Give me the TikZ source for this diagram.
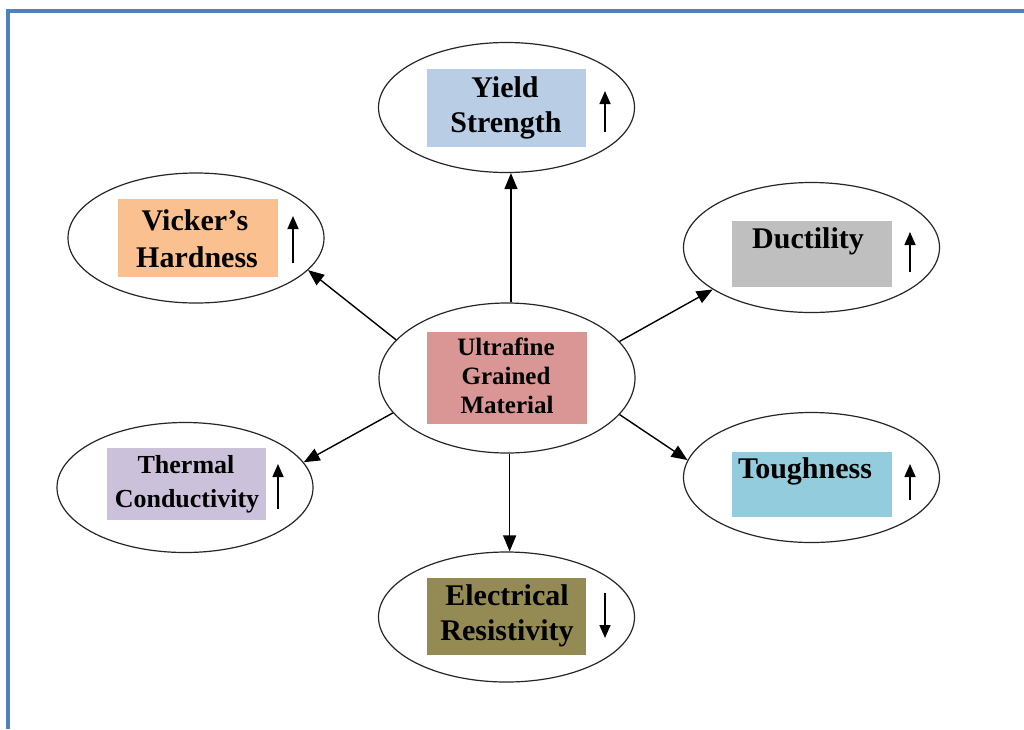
\documentclass[tikz,border=0pt]{standalone}
\usepackage{fontspec}
\setmainfont{Liberation Serif}
\usetikzlibrary{shapes.geometric,arrows.meta}
\definecolor{frameblue}{HTML}{4F81BD}
\definecolor{cyield}{HTML}{B9CDE5}
\definecolor{cvick}{HTML}{FAC08F}
\definecolor{cduct}{HTML}{BFBFBF}
\definecolor{ccent}{HTML}{D99694}
\definecolor{ctherm}{HTML}{CCC1DA}
\definecolor{ctough}{HTML}{93CDDD}
\definecolor{celec}{HTML}{948A54}
\tikzset{
  oval/.style={draw=black!85, line width=1.2pt, ellipse, inner sep=0pt, minimum width=256pt, minimum height=130pt},
  bigoval/.style={oval, minimum height=150pt},
  colbox/.style={rectangle, inner sep=0pt, draw=none},
  lbl/.style={anchor=base, inner sep=0pt, font=\bfseries\fontsize{30}{35}\selectfont, text=black},
  lblsmall/.style={lbl, font=\bfseries\fontsize{26}{32}\selectfont},
  lblcent/.style={lbl, font=\bfseries\fontsize{25}{29}\selectfont},
  conn/.style={line width=1.4pt, -{Triangle[length=16pt,width=13pt]}},
  trend/.style={line width=1.6pt, -{Triangle[length=13pt,width=11pt]}}
}
\begin{document}
\begin{tikzpicture}[x=1pt,y=-1pt]
\useasboundingbox (0,0) rectangle (1024,729);
\fill[white] (0,0) rectangle (1024,729);
% frame
\fill[frameblue] (6,9) rectangle (1024,13);
\fill[frameblue] (6,9) rectangle (10,729);

% ellipses
\node[bigoval] (c) at (507,378) {};
\node[oval] (y) at (506.5,107.5) {};
\node[oval] (v) at (196,238) {};
\node[oval] (d) at (811.5,247.5) {};
\node[oval] (t) at (185,487.5) {};
\node[oval] (g) at (811.5,477.5) {};
\node[oval] (e) at (506.5,617) {};

% coloured boxes
\node[colbox, fill=cyield, minimum width=159pt, minimum height=78pt] (yb) at (506.5,108) {};
\node[colbox, fill=cvick, minimum width=160pt, minimum height=78pt] (vb) at (198,238) {};
\node[colbox, fill=cduct, minimum width=160pt, minimum height=66pt] (db) at (812,254) {};
\node[colbox, fill=ccent, minimum width=160pt, minimum height=92pt] (cb) at (507,378) {};
\node[colbox, fill=ctherm, minimum width=159pt, minimum height=72pt] (tb) at (186.5,484) {};
\node[colbox, fill=ctough, minimum width=160pt, minimum height=65pt] (gb) at (812,484.5) {};
\node[colbox, fill=celec, minimum width=159pt, minimum height=77pt] (eb) at (506.5,616.5) {};

% labels
\node[lbl] (y1) at (505,97) {Yield};
\node[lbl] (y2) at (506,132) {Strength};
\node[lbl] (v1) at (195,230) {Vicker’s};
\node[lbl] (v2) at (197,267) {Hardness};
\node[lbl] (d1) at (808,248) {Ductility};
\node[lbl] (g1) at (805,478) {Toughness};
\node[lblcent] (c1) at (506,355) {Ultrafine};
\node[lblcent] (c2) at (506,384) {Grained};
\node[lblcent] (c3) at (507,413) {Material};
\node[lblsmall] (t1) at (186,473) {Thermal};
\node[lblsmall] (t2) at (187,507) {Conductivity};
\node[lbl] (e1) at (507,605) {Electrical};
\node[lbl] (e2) at (507,640) {Resistivity};

% trend arrows
\draw[trend] (605,132) -- (605,91);
\draw[trend] (293,263) -- (293,216);
\draw[trend] (910,272) -- (910,232);
\draw[trend] (910,500) -- (910,464);
\draw[trend] (278,509) -- (278,464);
\draw[trend] (605,593) -- (605,638);

% connectors
\draw[conn] (c.87.7) -- (c.87.7 |- y.south);
\draw[conn] (c.272.3) -- (c.272.3 |- e.north);
\draw[conn] (c.161) -- (v.-16);
\draw[conn] (c.18.4) -- (d.203);
\draw[conn] (c.-18) -- (g.172.6);
\draw[conn] (c.197) -- (t.12.7);
\end{tikzpicture}
\end{document}
